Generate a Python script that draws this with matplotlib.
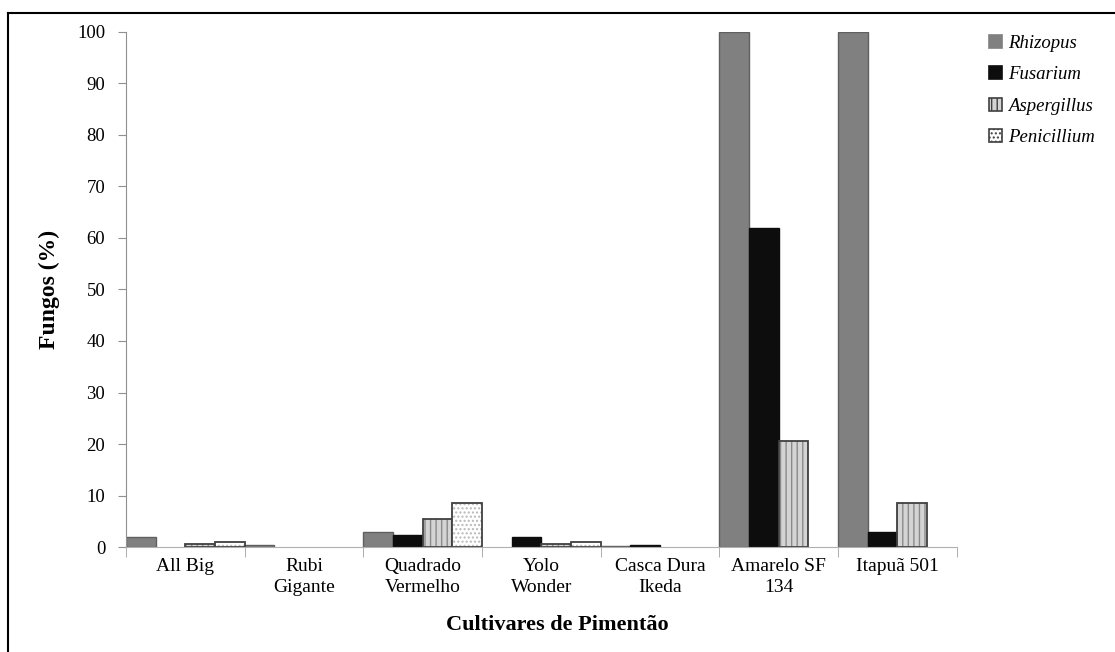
import numpy as np
import matplotlib
matplotlib.use("Agg")
import matplotlib.pyplot as plt
from matplotlib.patches import Patch
from matplotlib.lines import Line2D

# Dados
cultivares = ["All Big", "Rubi\nGigante", "Quadrado\nVermelho", "Yolo\nWonder",
              "Casca Dura\nIkeda", "Amarelo SF\n134", "Itapuã 501"]
fungos = ["Rhizopus", "Fusarium", "Aspergillus", "Penicillium"]
rhizopus = [2.0, 0.3, 3.0, 0.0, 0.2, 100.0, 100.0]
fusarium = [0.0, 0.0, 2.3, 1.9, 0.4, 62.0, 3.0]
aspergillus = [0.5, 0.0, 5.5, 0.5, 0.0, 20.5, 8.5]
penicillium = [1.0, 0.0, 8.5, 1.0, 0.0, 0.0, 0.0]
series = [rhizopus, fusarium, aspergillus, penicillium]

plt.rcParams["font.family"] = ["Liberation Serif", "DejaVu Serif"]
plt.rcParams["hatch.linewidth"] = 1.0

# estilo de cada serie: cor, hatch, cor do hatch, borda
styles = [
    dict(fc="#808080", hatch=None, hc=None, ec="#606060"),
    dict(fc="#0d0d0d", hatch=None, hc=None, ec="#0d0d0d"),
    dict(fc="#d4d4d4", hatch="|||", hc="#8a8a8a", ec="#404040"),
    dict(fc="#ffffff", hatch="....", hc="#b8b8b8", ec="#404040"),
]

fig = plt.figure(figsize=(11.15, 6.52), dpi=100)
ax = fig.add_axes([0.113, 0.161, 0.745, 0.79])

x = np.arange(len(cultivares))
w = 0.25
for j, vals in enumerate(series):
    s = styles[j]
    vals = np.array(vals)
    keep = vals > 0  # barras nulas nao aparecem
    pos = (x + j * w)[keep]
    vals = vals[keep]
    if s["hatch"]:
        ax.bar(pos, vals, w, align="edge", color=s["fc"], linewidth=0)
        ax.bar(pos, vals, w, align="edge", fill=False, hatch=s["hatch"],
               edgecolor=s["hc"], linewidth=0)
        ax.bar(pos, vals, w, align="edge", fill=False, edgecolor=s["ec"], linewidth=1.3)
    else:
        ax.bar(pos, vals, w, align="edge", color=s["fc"], edgecolor=s["ec"], linewidth=1.0)

ax.set_xlim(0, len(cultivares))
ax.set_ylim(0, 100)
ax.set_yticks(range(0, 101, 10))
ax.set_xticks(x + 0.5)
ax.set_xticklabels(cultivares, fontsize=14, linespacing=1.3)
ax.set_xticks(np.arange(len(cultivares) + 1), minor=True)
ax.tick_params(axis="x", which="major", length=0, pad=8)
ax.tick_params(axis="x", which="minor", length=7, color="#a0a0a0", direction="out")
ax.tick_params(axis="y", length=6, color="#909090", labelsize=13.5, pad=9)

for side in ["top", "right"]:
    ax.spines[side].set_visible(False)
ax.spines["left"].set_color("#909090")
ax.spines["bottom"].set_color("#b0b0b0")

ax.set_ylabel("Fungos (%)", fontsize=17, fontweight="bold", labelpad=12)
fig.text(0.5, 0.042, "Cultivares de Pimentão", ha="center", va="center",
         fontsize=16, fontweight="bold")

handles = []
for s in styles:
    handles.append(Patch(facecolor=s["fc"], edgecolor=s["ec"] if s["hatch"] else s["fc"],
                         hatch=s["hatch"], linewidth=1.2))
leg = fig.legend(handles, fungos, loc="upper left", bbox_to_anchor=(0.872, 0.972),
                 frameon=False, prop=dict(style="italic", size=13.5),
                 handlelength=0.7, handleheight=0.7, handletextpad=0.3,
                 labelspacing=0.75)

# moldura da figura (topo e esquerda)
fig.add_artist(Line2D([0.007, 0.007], [0.0, 0.98], color="black", lw=1.5))
fig.add_artist(Line2D([0.007, 1.0], [0.98, 0.98], color="black", lw=1.5))

fig.savefig("out.png", dpi=100)
